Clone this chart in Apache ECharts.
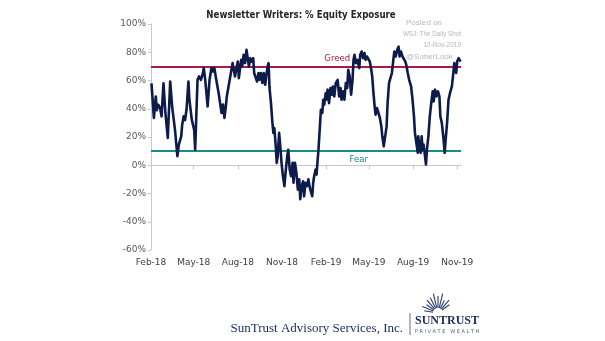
<!DOCTYPE html>
<html>
<head>
<meta charset="utf-8">
<script src="https://cdn.jsdelivr.net/npm/echarts@6/dist/echarts.min.js"></script>
<style>
html,body{margin:0;padding:0;background:#fff;}
#c{width:605px;height:341px;}
</style>
</head>
<body>
<div id="c"></div>
<script>
// ---- data ----
const dates = [
'2018-02-02','2018-02-07','2018-02-11','2018-02-13','2018-02-16','2018-02-20','2018-02-23','2018-02-27',
'2018-03-03','2018-03-08','2018-03-13','2018-03-17','2018-03-23','2018-03-28','2018-03-31',
'2018-04-05','2018-04-07','2018-04-10','2018-04-13','2018-04-16','2018-04-20','2018-04-22','2018-04-27',
'2018-05-02','2018-05-04','2018-05-09','2018-05-12','2018-05-16','2018-05-20','2018-05-22','2018-05-25','2018-05-30',
'2018-06-03','2018-06-07','2018-06-10','2018-06-13','2018-06-17','2018-06-22','2018-06-25','2018-06-28',
'2018-07-01','2018-07-04','2018-07-07','2018-07-09','2018-07-12','2018-07-15','2018-07-18','2018-07-21','2018-07-23','2018-07-26','2018-07-29',
'2018-08-01','2018-08-03','2018-08-08','2018-08-10','2018-08-13','2018-08-16','2018-08-19','2018-08-21','2018-08-24','2018-08-27','2018-08-30',
'2018-09-02','2018-09-04','2018-09-07','2018-09-10','2018-09-13','2018-09-15','2018-09-18','2018-09-21','2018-09-24','2018-09-27','2018-09-29',
'2018-10-02','2018-10-04','2018-10-06','2018-10-09','2018-10-12','2018-10-14','2018-10-16','2018-10-19','2018-10-21','2018-10-23','2018-10-26','2018-10-29','2018-10-31',
'2018-11-03','2018-11-06','2018-11-09','2018-11-12','2018-11-14','2018-11-17','2018-11-20','2018-11-23','2018-11-25','2018-11-28',
'2018-12-01','2018-12-04','2018-12-07','2018-12-09','2018-12-12','2018-12-15','2018-12-17','2018-12-20','2018-12-23','2018-12-26','2018-12-29',
'2019-01-01','2019-01-03','2019-01-05','2019-01-07','2019-01-10','2019-01-12','2019-01-14','2019-01-16','2019-01-19','2019-01-21','2019-01-24','2019-01-26','2019-01-28','2019-01-31',
'2019-02-01','2019-02-04','2019-02-07','2019-02-10','2019-02-13','2019-02-15','2019-02-18','2019-02-21','2019-02-24','2019-02-25','2019-02-28',
'2019-03-03','2019-03-05','2019-03-08','2019-03-11','2019-03-14','2019-03-17','2019-03-19','2019-03-22','2019-03-25','2019-03-28','2019-03-30',
'2019-04-01','2019-04-04','2019-04-07','2019-04-11','2019-04-13','2019-04-16','2019-04-19','2019-04-22','2019-04-24','2019-04-27','2019-04-30',
'2019-05-03','2019-05-06','2019-05-08','2019-05-10','2019-05-13','2019-05-15','2019-05-18','2019-05-21','2019-05-24','2019-05-27','2019-05-29',
'2019-06-01','2019-06-04','2019-06-07','2019-06-09','2019-06-12','2019-06-15','2019-06-18','2019-06-21','2019-06-23','2019-06-26','2019-06-29',
'2019-07-02','2019-07-04','2019-07-07','2019-07-10','2019-07-13','2019-07-16','2019-07-18','2019-07-21','2019-07-24','2019-07-28','2019-07-31',
'2019-08-03','2019-08-05','2019-08-08','2019-08-11','2019-08-12','2019-08-14','2019-08-17','2019-08-19','2019-08-21','2019-08-23','2019-08-26','2019-08-28','2019-08-30',
'2019-09-02','2019-09-05','2019-09-08','2019-09-11','2019-09-13','2019-09-16','2019-09-19','2019-09-22','2019-09-25','2019-09-27','2019-09-30',
'2019-10-03','2019-10-06','2019-10-08','2019-10-11','2019-10-14','2019-10-17','2019-10-21','2019-10-24','2019-10-26','2019-10-28','2019-10-30',
'2019-11-01','2019-11-04','2019-11-06','2019-11-08'
];
const exposure = [
58,33.5,48.7,39,42.9,40.5,34.6,58,
37,19.3,59.3,41.7,25,6.4,14.6,
20.5,28.7,34.6,32,39.3,59.3,46.4,32.3,
25,11,60.5,62.9,60.5,65,68.8,60.5,41.7,
60.5,68.8,66.4,68.8,60.5,51,44,37,
43,33.5,41.7,48.7,50,60.5,61.7,72.3,73.4,62.9,68.8,
73.4,61.7,74.6,70,78.2,72.3,81.7,77,70,75.8,73.4,
75.8,65.3,64,59.3,65.3,60.5,65.3,58.2,65.3,57,62.9,
70,72.3,54.7,44,30,22.9,26.4,13.4,1.7,6.4,22.9,11,1.7,
-7.8,-14.8,-3,6.4,11,-3,-7.8,1.7,-12.4,1.7,
-5.4,-17.2,-10,-24,-14.8,-11.3,-22,-12.4,-14.8,-10,-16,
-19.5,-21.9,-12.4,-7.8,-3,-6.6,2.8,11,27.5,39.3,37,46.4,42.9,51,
46.4,53.5,44,54.7,50,55.8,48.7,58.2,59.3,60.5,48.7,
54.7,46.4,52.3,46.4,58.2,54.7,67.6,62.9,50,60.5,74.6,
78.2,72.3,74.6,68.8,78.2,80.5,75.8,79.4,74.6,77,75.8,
73.4,67.6,62.9,53.5,41.7,35.8,40.5,37,33.5,27.5,20.5,
13.4,13.4,27.5,44,58.2,59.3,65.3,74.6,80.5,77,81.7,
84,77,80.5,77,78.2,73.4,71,65.3,60.5,55.8,46.4,
34.6,22.9,15.8,8.8,20.5,13.4,8.8,20.5,11,14.6,6.4,0.5,11,
20.5,34.6,44,52.3,45.2,53.5,48.7,52.3,48.7,34.6,30,
20.5,8.8,18.1,30,46.4,51,55.8,65.3,72.3,68.8,65.3,
73.4,75.8,74.6,73.4
];
const greedLevel = 70;
const fearLevel = 10;
const tickDates = ['2018-02-01','2018-05-01','2018-08-01','2018-11-01','2019-02-01','2019-05-01','2019-08-01','2019-11-01'];
const tickLabels = ['Feb-18','May-18','Aug-18','Nov-18','Feb-19','May-19','Aug-19','Nov-19'];
const xStart = '2018-02-01';
const xEnd = '2019-11-09';
const yMin = -60, yMax = 100, yStep = 20;

// ---- chart ----
const ts = d => { const p = d.split('-'); return Date.UTC(+p[0], +p[1]-1, +p[2]); };
const tickTs = tickDates.map(ts);
const labelMap = {};
tickTs.forEach((t,i)=>{ labelMap[t] = tickLabels[i]; });
const lineData = dates.map((d,i)=>[ts(d), exposure[i]]);

const chart = echarts.init(document.getElementById('c'), null, {renderer:'canvas'});
const axisFont = 'DejaVu Sans';
const option = {
  animation:false,
  backgroundColor:'#ffffff',
  title:{
    text:'Newsletter Writers: % Equity Exposure',
    left:296, top:5, textAlign:'center',
    textStyle:{fontFamily:'DejaVu Sans Condensed', fontWeight:'bold', fontSize:9.6, color:'#262626'}
  },
  grid:{left:151, right:144, top:24, bottom:91, containLabel:false},
  xAxis:[{
    type:'value', min:ts(xStart), max:ts(xEnd), scale:true,
    position:'bottom',
    axisLine:{show:true, onZero:true, lineStyle:{color:'#c8c8c8', width:1}},
    axisTick:{show:true, customValues:tickTs, length:4, inside:false, lineStyle:{color:'#c8c8c8'}},
    axisLabel:{show:false},
    splitLine:{show:false}
  },{
    type:'value', min:ts(xStart), max:ts(xEnd), scale:true,
    position:'bottom',
    axisLine:{show:false, onZero:false},
    axisTick:{show:false},
    axisLabel:{show:true, customValues:tickTs, formatter:v=>labelMap[v]||'', margin:8,
      fontFamily:axisFont, fontSize:9, color:'#404040', hideOverlap:false, showMinLabel:true, showMaxLabel:true},
    splitLine:{show:false}
  }],
  yAxis:{
    type:'value', min:yMin, max:yMax, interval:yStep,
    axisLine:{show:true, lineStyle:{color:'#c8c8c8'}},
    axisTick:{show:true, length:3, lineStyle:{color:'#c8c8c8'}},
    axisLabel:{formatter:'{value}%', fontFamily:axisFont, fontSize:9, color:'#595959', margin:5},
    splitLine:{show:false}
  },
  series:[{
    type:'line', xAxisIndex:0, data:lineData, showSymbol:false, symbol:'none',
    lineStyle:{color:'#0d1b4b', width:2.6, join:'round'},
    z:5,
    markLine:{
      silent:true, symbol:['none','none'], label:{show:false},
      data:[
        {yAxis:greedLevel, lineStyle:{color:'#ab1750', width:2, type:'solid'}},
        {yAxis:fearLevel, lineStyle:{color:'#1b8a8c', width:2, type:'solid'}}
      ],
      z:3
    }
  }]
};
chart.setOption(option);

// annotations positioned through the chart's own scales
const pG = chart.convertToPixel({gridIndex:0}, [ts('2019-02-24'), greedLevel]);
const pF = chart.convertToPixel({gridIndex:0}, [ts('2019-04-10'), fearLevel]);
const pW = chart.convertToPixel({gridIndex:0}, [ts(xEnd), yMax]);
const wl = pW[0] - 55;

const gfx = [
  {type:'text', x:pG[0], y:pG[1]-3, style:{text:'Greed', fill:'#b0174d', font:'9.5px "DejaVu Sans Condensed"', textAlign:'center', textVerticalAlign:'bottom'}, z:10},
  {type:'text', x:pF[0], y:pF[1]+3, style:{text:'Fear', fill:'#1b8a8c', font:'9.5px "DejaVu Sans Condensed"', textAlign:'center', textVerticalAlign:'top'}, z:10},
  {type:'text', x:wl, y:pW[1]-1, style:{text:'Posted on', fill:'#b8b8b8', font:'8px "Liberation Sans"', textAlign:'left', textVerticalAlign:'middle'}, z:10},
  {type:'text', x:pW[0], y:pW[1]+10, style:{text:'WSJ: The Daily Shot', fill:'#b8b8b8', font:'6.3px "Liberation Sans"', textAlign:'right', textVerticalAlign:'middle'}, z:10},
  {type:'text', x:pW[0], y:pW[1]+21, style:{text:'12-Nov-2019', fill:'#b8b8b8', font:'6.5px "Liberation Sans"', textAlign:'right', textVerticalAlign:'middle'}, z:10},
  {type:'text', x:wl, y:pW[1]+33, style:{text:'@SoberLook', fill:'#b8b8b8', font:'8px "Liberation Sans"', textAlign:'left', textVerticalAlign:'middle'}, z:10},
  // footer
  {type:'text', x:403, y:329, style:{text:'SunTrust Advisory Services, Inc.', fill:'#1d2b5e', font:'13px "Liberation Serif"', textAlign:'right', textVerticalAlign:'middle'}},
  {type:'line', shape:{x1:410, y1:313, x2:410, y2:335}, style:{stroke:'#5a6a90', lineWidth:1}},
  {type:'text', x:447, y:321, style:{text:'SUNTRUST', fill:'#1d2b5e', font:'bold 12px "Liberation Serif"', textAlign:'center', textVerticalAlign:'middle'}},
  {type:'text', x:447, y:332, style:{text:'P R I V A T E   W E A L T H', fill:'#4a5a80', font:'5px "DejaVu Sans"', textAlign:'center', textVerticalAlign:'middle'}}
];
// sunburst rays
const cx = 438, cy = 313;
for (let i = 0; i < 11; i++) {
  const a = Math.PI * (0.95 - i * 0.075);
  const r1 = 5, r2 = 14 + (i % 2) * 3 + (i > 3 && i < 8 ? 3 : 0);
  gfx.push({type:'line', shape:{x1:cx + r1*Math.cos(a), y1:cy - r1*Math.sin(a), x2:cx + r2*Math.cos(a), y2:cy - r2*Math.sin(a)}, style:{stroke:'#2a3a6e', lineWidth:1.1}});
}
chart.setOption({graphic:gfx});
</script>
</body>
</html>
